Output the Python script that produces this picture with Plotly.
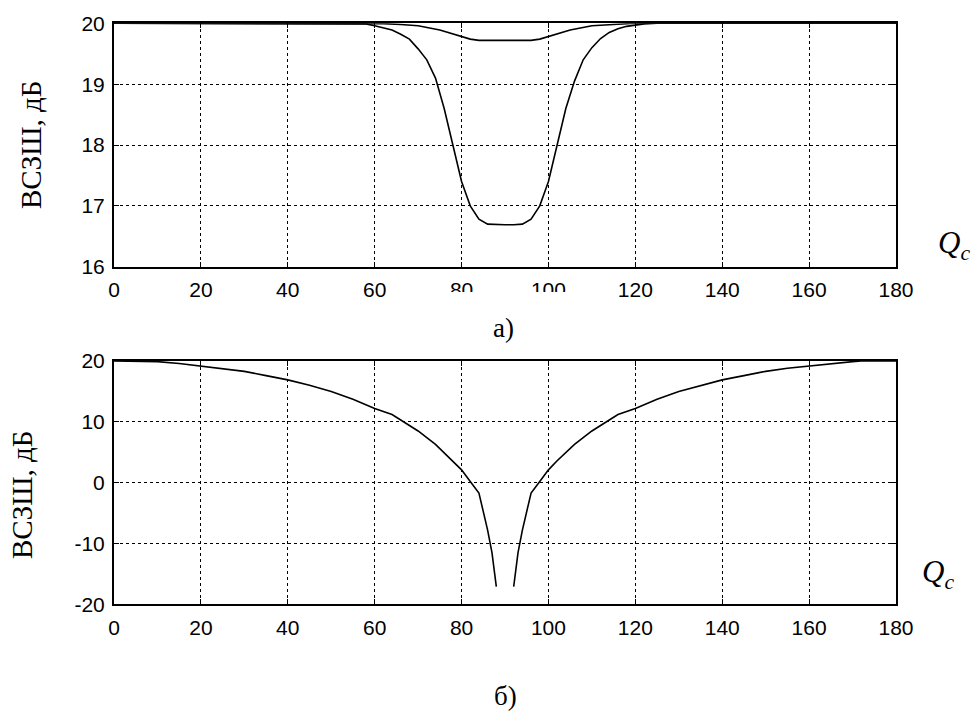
import plotly.graph_objects as go

# ---- data (top panel "а)") ----
x_deep = [0, 10, 20, 30, 40, 50, 55, 58, 60, 62, 64, 66, 68, 70, 72, 74, 76, 78, 80, 82, 84, 86, 88,
          90, 92, 94, 96, 98, 100, 102, 104, 106, 108, 110, 112, 114, 116, 118, 120, 122, 125, 130,
          140, 150, 160, 170, 180]
y_deep = [20, 20, 20, 20, 20, 20, 20, 19.99, 19.96, 19.93, 19.89, 19.82, 19.74, 19.58, 19.4, 19.1,
          18.6, 18.0, 17.4, 17.0, 16.78, 16.7, 16.69, 16.69, 16.69, 16.7, 16.78, 17.0, 17.4, 18.0,
          18.6, 19.05, 19.4, 19.6, 19.75, 19.85, 19.91, 19.95, 19.97, 19.99, 20, 20,
          20, 20, 20, 20, 20]

x_shallow = [0, 20, 40, 60, 62, 66, 70, 75, 78, 80, 82, 84, 86, 90, 94, 96, 98, 100, 102, 105,
             110, 114, 118, 120, 140, 160, 180]
y_shallow = [20, 20, 20, 20, 19.995, 19.98, 19.96, 19.89, 19.83, 19.78, 19.74, 19.72, 19.72, 19.72,
             19.72, 19.72, 19.74, 19.78, 19.83, 19.89, 19.96, 19.98, 19.995, 20, 20, 20, 20]

# ---- data (bottom panel "б)") ----
x_left = [0, 5, 8, 10, 15, 20, 25, 30, 35, 40, 45, 50, 55, 60, 64, 67, 70, 74, 78, 80, 82, 84, 86, 87, 88]
y_left = [20, 20, 20, 19.9, 19.6, 19.2, 18.8, 18.3, 17.6, 16.9, 16.0, 15.0, 13.7, 12.2, 11.2, 9.9,
          8.5, 6.3, 3.6, 2.1, 0.2, -1.7, -7.8, -11.5, -17.1]
x_right = [92, 93, 94, 96, 98, 100, 102, 106, 110, 113, 116, 120, 125, 130, 135, 140, 145, 150, 155,
           160, 165, 170, 172, 175, 180]
y_right = [-17.1, -11.5, -7.8, -1.7, 0.2, 2.1, 3.6, 6.3, 8.5, 9.9, 11.2, 12.2, 13.7, 15.0, 16.0, 16.9,
           17.6, 18.3, 18.8, 19.2, 19.6, 19.9, 20, 20, 20]

x_ticks = [0, 20, 40, 60, 80, 100, 120, 140, 160, 180]
y_ticks_top = [16, 17, 18, 19, 20]
y_ticks_bot = [-20, -10, 0, 10, 20]
y_ticktext_bot = ["-20", "-10", "0", "10", "20"]

W, H = 971, 711
line = dict(color="black", width=1.6)

fig = go.Figure()
fig.add_trace(go.Scatter(x=x_deep, y=y_deep, mode="lines", line=line, xaxis="x", yaxis="y"))
fig.add_trace(go.Scatter(x=x_shallow, y=y_shallow, mode="lines", line=line, xaxis="x", yaxis="y"))
fig.add_trace(go.Scatter(x=x_left, y=y_left, mode="lines", line=line, xaxis="x2", yaxis="y2"))
fig.add_trace(go.Scatter(x=x_right, y=y_right, mode="lines", line=line, xaxis="x2", yaxis="y2"))

tickfont = dict(family="Liberation Sans, Arial", size=21, color="black")
common = dict(showline=True, linecolor="black", linewidth=2, mirror="ticks", ticks="inside",
              ticklen=5, tickcolor="black", tickwidth=1, showgrid=True, gridcolor="black",
              gridwidth=1, griddash="dot", zeroline=False, tickfont=tickfont, automargin=False)

xd = [114 / W, 896 / W]
fig.update_layout(
    width=W, height=H, margin=dict(l=0, r=0, t=0, b=0, autoexpand=False),
    paper_bgcolor="white", plot_bgcolor="white", showlegend=False,
    xaxis=dict(domain=xd, range=[0, 180], tickvals=x_ticks, anchor="y", ticklabelstandoff=3, **common),
    yaxis=dict(domain=[1 - 266.7 / H, 1 - 23.3 / H], range=[16, 20], tickvals=y_ticks_top,
               anchor="x", ticklabelstandoff=3, **common),
    xaxis2=dict(domain=xd, range=[0, 180], tickvals=x_ticks, anchor="y2", ticklabelstandoff=3, **common),
    yaxis2=dict(domain=[1 - 604.3 / H, 1 - 361 / H], range=[-20, 20], tickvals=y_ticks_bot,
                ticktext=y_ticktext_bot, anchor="x2", ticklabelstandoff=3, **common),
)

# scan artefact: lower half of "80" and "100" hidden
fig.add_shape(type="rect", xref="paper", yref="paper", x0=430 / W, x1=585 / W,
              y0=1 - 305 / H, y1=1 - 292 / H, fillcolor="white", line=dict(width=0), layer="above")

serif = "Liberation Serif, Times New Roman, serif"
ann = [
    dict(text="ВСЗШ, дБ", x=31 / W, y=1 - 145 / H, textangle=-90, font=dict(family=serif, size=29)),
    dict(text="ВСЗШ, дБ", x=22 / W, y=1 - 495 / H, textangle=-90, font=dict(family=serif, size=29)),
    dict(text="<i>Q<sub>c</sub></i>", x=954 / W, y=1 - 245 / H, font=dict(family=serif, size=31)),
    dict(text="<i>Q<sub>c</sub></i>", x=938 / W, y=1 - 574 / H, font=dict(family=serif, size=31)),
    dict(text="а)", x=503 / W, y=1 - 328 / H, font=dict(family=serif, size=27)),
    dict(text="б)", x=505 / W, y=1 - 696 / H, font=dict(family=serif, size=27)),
]
for a in ann:
    a["font"]["color"] = "black"
    fig.add_annotation(xref="paper", yref="paper", showarrow=False, xanchor="center", yanchor="middle", **a)

fig.write_html("out.html", config={"displayModeBar": False},
               post_script="document.body.style.margin='0';")
